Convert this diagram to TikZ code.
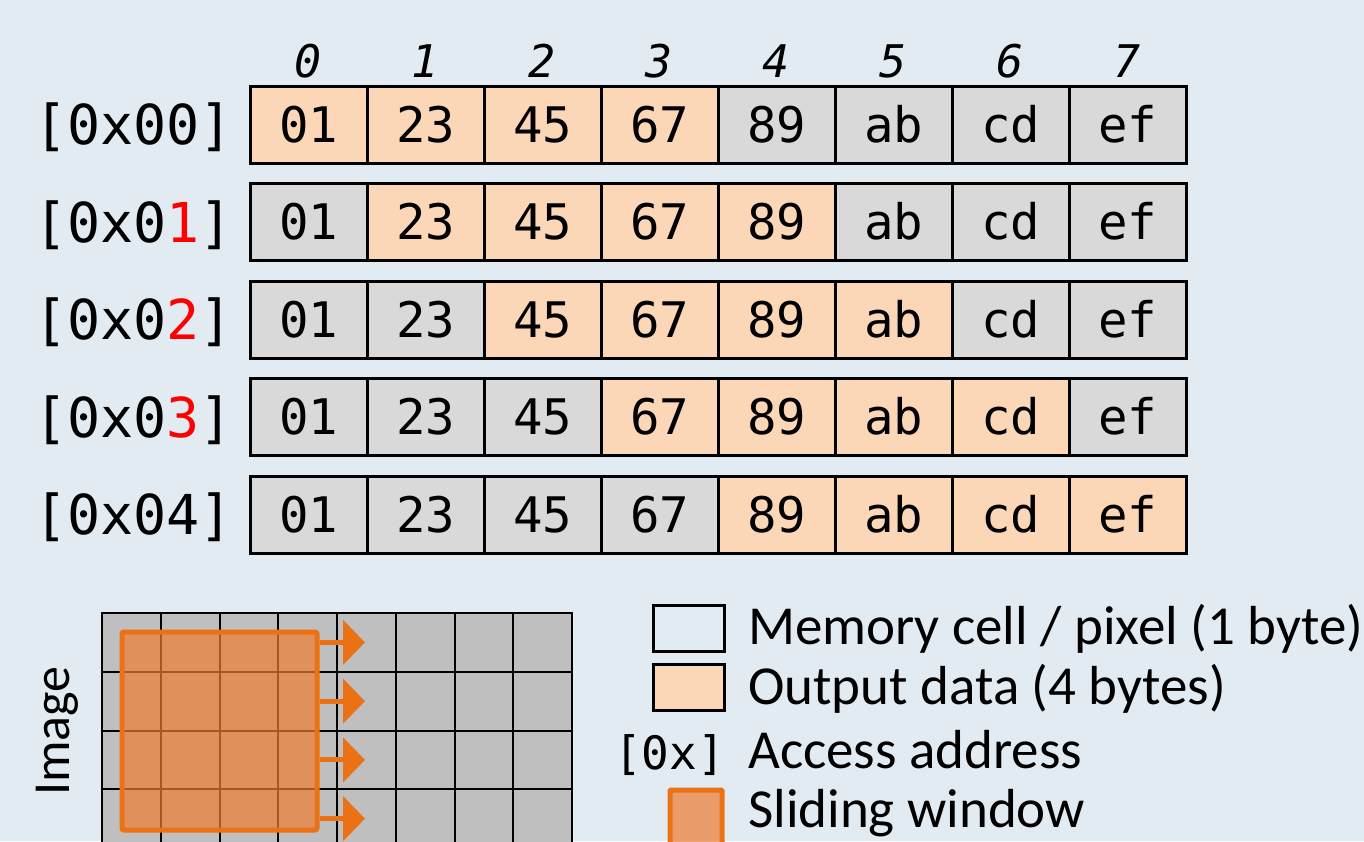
\documentclass[tikz,border=0pt]{standalone}
\usepackage{fontspec}
\setmainfont{Carlito}
\newfontfamily\mono{DejaVu Sans Mono}
\usetikzlibrary{arrows.meta}
\definecolor{bgc}{HTML}{E3EBF2}
\definecolor{peach}{HTML}{FBD6B7}
\definecolor{cellgray}{HTML}{D9D9D9}
\definecolor{gridgray}{HTML}{BFBFBF}
\definecolor{winorange}{HTML}{EA7215}
\definecolor{winfill}{HTML}{ED7D31}
\tikzset{
  cell/.style={draw=black, line width=3, minimum width=117, minimum height=77, inner sep=0,
    text height=35, text depth=0, font=\mono\fontsize{49}{49}\selectfont},
  addr/.style={anchor=base east, inner sep=0, font=\mono\fontsize{55}{55}\selectfont},
  colnum/.style={anchor=base, inner sep=0, font=\mono\itshape\fontsize{45}{45}\selectfont},
  legbox/.style={draw=black, line width=3, minimum width=71, minimum height=46, inner sep=0},
  legtext/.style={anchor=base west, inner sep=0, font=\fontsize{55}{55}\selectfont},
  window/.style={draw=winorange, line width=5, fill=winfill, fill opacity=0.7, inner sep=0, rounded corners=2},
  slide/.style={draw=winorange, fill=winorange, line width=5, -{Triangle[length=22pt,width=44pt]}},
  gridline/.style={draw=black, line width=2}
}
\begin{document}
\begin{tikzpicture}[x=1pt,y=-1pt]
\fill[bgc] (0,0) rectangle (1364,841);
\useasboundingbox (0,0) rectangle (1364,841);

% column numbers
\foreach \c in {0,...,7} {
  \pgfmathsetmacro\xc{308.5+117*\c}
  \node[colnum] (n\c) at (\xc,77) {\c};
}

% memory rows
\foreach \r in {0,...,4} {
  \pgfmathsetmacro\yc{124.5+97.6*\r}
  \foreach \t [count=\cc from 0] in {01,23,45,67,89,ab,cd,ef} {
    \pgfmathsetmacro\xc{308.5+117*\cc}
    \ifnum\cc<\r\relax \def\fc{cellgray}\else
      \ifnum\cc>\numexpr\r+3\relax \def\fc{cellgray}\else \def\fc{peach}\fi
    \fi
    \node[cell, fill=\fc] (c\r\cc) at (\xc,\yc) {\t};
  }
}

% address labels
\node[addr] (a0) at (233,144.5) {[0x00]};
\node[addr] (a1) at (233,242.1) {[0x0\textcolor{red}{1}]};
\node[addr] (a2) at (233,339.7) {[0x0\textcolor{red}{2}]};
\node[addr] (a3) at (233,437.3) {[0x0\textcolor{red}{3}]};
\node[addr] (a4) at (233,534.9) {[0x04]};

% image grid
\fill[gridgray] (102,613) rectangle (572,850);
\draw[gridline] (102,850) -- (102,613) -- (572,613) -- (572,850);
\foreach \i in {1,...,7} \draw[gridline] (102+58.75*\i,613) -- (102+58.75*\i,850);
\foreach \j in {1,...,3} \draw[gridline] (102,613+58.75*\j) -- (572,613+58.75*\j);

% sliding window
\node[window, minimum width=195, minimum height=198] (win) at (219.5,731) {};
\foreach \j in {0,...,3} {
  \coordinate (t\j) at (365,642.4+58.75*\j);
  \draw[slide] (win.east |- t\j) -- (t\j);
}
\node[rotate=90, inner sep=0, font=\fontsize{52}{52}\selectfont] (img) at (57,731) {Image};

% legend
\node[legbox] (l1) at (688.5,628) {};
\node[legbox, fill=peach] (l2) at (688.5,687.5) {};
\node[anchor=base east, inner sep=0, font=\mono\fontsize{46}{46}\selectfont] (l3) at (725,769) {[0x]};
\node[window, rounded corners=1, minimum width=52, minimum height=62] (l4) at (696,821) {};
\node[legtext] (t1) at (748,644) {Memory cell / pixel (1 byte)};
\node[legtext] (t2) at (748,704) {Output data (4 bytes)};
\node[legtext] (t3) at (748,768) {Access address};
\node[legtext] (t4) at (748,827) {Sliding window};
\end{tikzpicture}
\end{document}
